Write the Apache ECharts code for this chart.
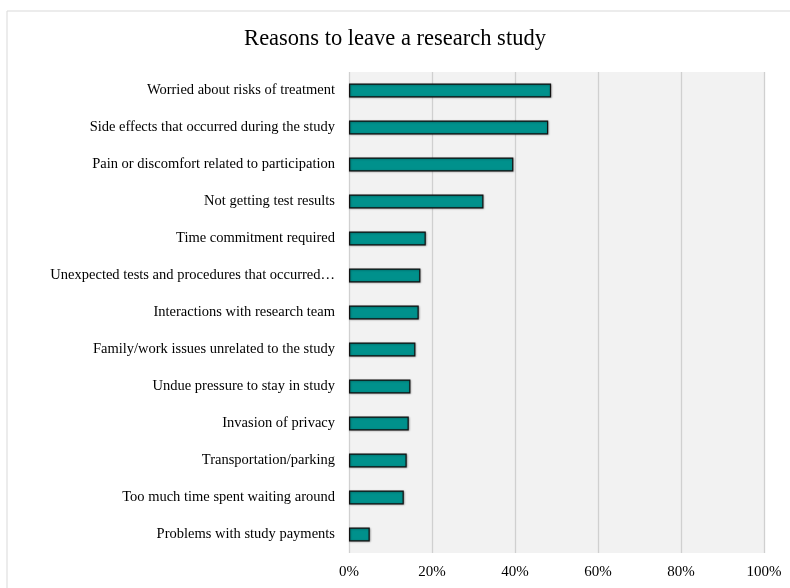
<!DOCTYPE html>
<html>
<head>
<meta charset="utf-8">
<script src="https://cdn.jsdelivr.net/npm/echarts@6/dist/echarts.min.js"></script>
<style>html,body{margin:0;padding:0;background:#fff}#c{width:790px;height:588px}</style>
</head>
<body>
<div id="c"></div>
<script>
const categories = [
  "Worried about risks of treatment",
  "Side effects that occurred during the study",
  "Pain or discomfort related to participation",
  "Not getting test results",
  "Time commitment required",
  "Unexpected tests and procedures that occurred…",
  "Interactions with research team",
  "Family/work issues unrelated to the study",
  "Undue pressure to stay in study",
  "Invasion of privacy",
  "Transportation/parking",
  "Too much time spent waiting around",
  "Problems with study payments"
];
const values = [48.7, 48.0, 39.6, 32.4, 18.5, 17.2, 16.8, 16.0, 14.8, 14.4, 13.9, 13.2, 5.0];
const xTicks = [0, 20, 40, 60, 80, 100];

const chart = echarts.init(document.getElementById('c'), null, {renderer: 'canvas'});
const font = '"Liberation Serif", "Times New Roman", serif';
chart.setOption({
  animation: false,
  backgroundColor: '#fff',
  graphic: [{
    type: 'rect', z: -10, silent: true,
    shape: {x: 7, y: 11, width: 800, height: 600},
    style: {fill: '#fff', stroke: '#d9d9d9', lineWidth: 1}
  }],
  title: {
    text: 'Reasons to leave a research study',
    left: 'center', top: 23,
    textStyle: {fontFamily: font, fontSize: 22.5, fontWeight: 'normal', color: '#000'}
  },
  grid: {left: 349, right: 26, top: 72, bottom: 35, show: true, backgroundColor: '#f2f2f2', borderWidth: 0},
  xAxis: {
    type: 'value', min: 0, max: 100, interval: 20,
    axisLine: {show: false}, axisTick: {show: false},
    splitLine: {show: true, lineStyle: {color: '#d0d0d0', width: 1.3}},
    axisLabel: {
      fontFamily: font, fontSize: 15, color: '#000', margin: 12,
      formatter: v => xTicks.includes(v) ? v + '%' : ''
    }
  },
  yAxis: {
    type: 'category', data: categories, inverse: true,
    axisLine: {show: false}, axisTick: {show: false},
    axisLabel: {fontFamily: font, fontSize: 14.5, color: '#000', margin: 14}
  },
  series: [{
    type: 'bar', data: values, barWidth: 14,
    itemStyle: {
      color: '#00918c', borderColor: '#111', borderWidth: 1.2,
      shadowColor: 'rgba(0,0,0,0.35)', shadowBlur: 2, shadowOffsetX: 0.5, shadowOffsetY: 0.5
    }
  }]
});
</script>
</body>
</html>
